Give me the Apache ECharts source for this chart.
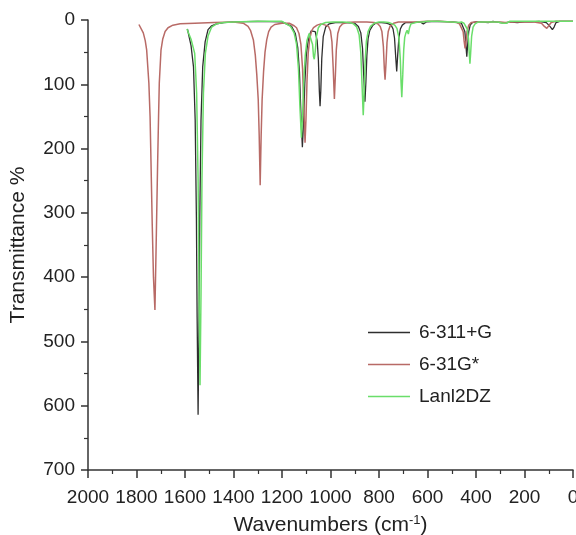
<!DOCTYPE html>
<html><head><meta charset="utf-8">
<script src="https://cdn.jsdelivr.net/npm/echarts@6/dist/echarts.min.js"></script>
<style>html,body{margin:0;padding:0;background:#fff}#c{width:576px;height:535px}</style>
</head><body><div id="c"></div>
<script>
var seriesNames = ['6-311+G', '6-31G*', 'Lanl2DZ'];
var xTicks = [0, 200, 400, 600, 800, 1000, 1200, 1400, 1600, 1800, 2000];
var yTicks = [0, 100, 200, 300, 400, 500, 600, 700];

// [wavenumber, transmittance %]
var black = [
[1590,14],[1575,40],[1565,73],[1558,156],[1553,307],[1550,462],[1546,614],[1542,462],[1539,307],[1534,156],[1527,73],[1517,34],[1505,15],[1490,9],[1470,6],[1440,4],[1400,3],[1300,2],[1200,3],
[1160,10],[1145,21],[1135,43],[1128,81],[1122,146],[1116,198],[1111,158],[1106,99],[1100,56],[1095,39],[1088,25],[1080,17],[1072,15],[1063,18],[1055,32],[1050,61],[1046,111],[1043,134],[1040,110],[1036,60],[1030,26],[1020,11],[1005,6],[980,4],[940,4],
[900,5],[885,10],[875,20],[868,44],[863,86],[858,127],[854,96],[850,55],[845,29],[838,16],[825,8],[810,4],[790,4],[770,5],[760,6],[750,8],[742,14],[736,28],[731,58],[727,80],[723,55],[718,28],[712,14],[704,8],[690,4],[660,4],[630,3],[617,6],[605,3],[560,2],[500,3],[470,4],[460,5],[452,8],[446,18],[442,37],[438,57],[434,37],[430,18],[424,8],[415,4],[400,3],[380,3],[350,4],[330,2],[300,4],[280,5],[260,3],[230,4],[200,3],[170,3],[140,2],[110,4],[95,10],[85,15],[78,11],[70,4],[55,2],[30,2],[0,2]];

var red = [
[1790,7],[1783,10],[1772,20],[1764,32],[1758,47],[1749,98],[1744,150],[1740,225],[1735,320],[1730,400],[1724,451],[1718,330],[1713,225],[1709,150],[1706,98],[1699,47],[1692,30],[1682,18],[1670,12],[1650,8],[1620,6],[1560,5],[1480,4],[1400,3],
[1360,5],[1340,10],[1330,16],[1318,31],[1310,55],[1304,85],[1298,124],[1294,180],[1290,257],[1286,180],[1282,124],[1276,80],[1270,50],[1263,31],[1255,18],[1245,11],[1230,7],[1200,5],[1170,5],
[1150,9],[1140,12],[1130,21],[1122,38],[1115,77],[1110,137],[1105,191],[1101,153],[1097,96],[1092,52],[1086,30],[1078,17],[1070,12],[1055,8],[1040,6],[1020,8],[1008,10],[1000,17],[994,34],[989,74],[984,123],[980,87],[976,46],[970,21],[962,11],[950,6],[930,4],[900,3],[850,3],
[820,4],[805,6],[795,10],[788,18],[782,41],[778,76],[775,93],[771,67],[767,35],[762,18],[755,10],[740,5],[720,3],[690,3],[650,3],[600,2],[550,2],[500,3],
[480,4],[468,6],[460,8],[453,18],[449,33],[445,44],[441,33],[437,18],[430,8],[420,4],[400,3],[350,3],[300,3],[280,4],[250,3],[200,3],[160,3],[130,5],[118,10],[108,13],[100,9],[90,4],[70,2],[40,2],[0,2]];

var green = [
[1592,14],[1575,30],[1560,52],[1552,114],[1546,247],[1542,427],[1538,568],[1534,427],[1530,247],[1524,114],[1516,52],[1505,25],[1490,11],[1470,6],[1440,4],[1400,3],[1300,2],[1200,2],
[1165,10],[1150,20],[1140,38],[1132,77],[1126,136],[1120,183],[1115,148],[1110,93],[1104,55],[1097,32],[1088,21],[1080,24],[1074,38],[1070,57],[1067,61],[1063,49],[1058,26],[1050,12],[1040,7],[1020,4],[990,3],[950,3],[920,4],
[905,6],[892,11],[882,23],[875,51],[870,100],[865,148],[861,111],[857,64],[852,33],[845,18],[835,10],[820,5],[800,3],[780,3],[760,4],
[745,6],[735,8],[726,13],[718,27],[712,62],[709,97],[706,120],[702,85],[698,46],[694,27],[689,20],[684,16],[679,22],[674,12],[668,6],[660,4],[640,3],[620,3],[600,2],[560,2],[500,3],
[470,4],[460,3],[450,5],[442,7],[436,14],[431,29],[428,51],[425,68],[422,51],[418,25],[412,11],[404,6],[390,3],[350,3],[310,3],[290,5],[282,8],[275,5],[260,2],[200,2],[150,2],[100,2],[50,2],[0,2]];

var FONT = '"Liberation Sans", Arial, sans-serif';
var axisColor = '#333';
var colors = ['#2e2e2e', '#b86a66', '#6ade6a'];
var chart = echarts.init(document.getElementById('c'), null, {renderer: 'canvas'});
chart.setOption({
  animation: false,
  backgroundColor: '#fff',
  grid: {left: 88, right: 3, top: 20, bottom: 65, containLabel: false, outerBoundsMode: 'none'},
  legend: {
    data: seriesNames,
    orient: 'vertical',
    left: 368, top: 323, padding: 0,
    icon: 'rect',
    itemWidth: 42, itemHeight: 1.5, itemGap: 13,
    textStyle: {fontFamily: FONT, fontSize: 19, color: '#222', padding: [0, 0, 0, 4], lineHeight: 19, height: 19}
  },
  xAxis: {
    type: 'value', position: 'bottom', min: xTicks[0], max: xTicks[xTicks.length - 1], interval: 200, inverse: true,
    name: '{a|Wavenumbers (cm}{s|-1}{a|)}',
    nameLocation: 'middle', nameGap: 43,
    nameTextStyle: {rich: {
      a: {fontFamily: FONT, fontSize: 21, color: '#222', lineHeight: 24},
      s: {fontFamily: FONT, fontSize: 13, color: '#222', lineHeight: 24, padding: [0, 0, 10, 0]}
    }},
    axisLine: {onZero: false, lineStyle: {color: axisColor, width: 1.5}},
    axisTick: {show: true, length: 8, lineStyle: {color: axisColor, width: 1.5}},
    minorTick: {show: true, splitNumber: 2, length: 4, lineStyle: {color: axisColor, width: 1.2}},
    axisLabel: {fontFamily: FONT, fontSize: 19, color: '#222', margin: 18, formatter: function (v) { return String(v); }},
    splitLine: {show: false}
  },
  yAxis: {
    type: 'value', position: 'left', min: yTicks[0], max: yTicks[yTicks.length - 1], interval: 100, inverse: true,
    name: 'Transmittance %', nameLocation: 'middle', nameGap: 59, nameRotate: 90,
    nameTextStyle: {fontFamily: FONT, fontSize: 21, color: '#222'},
    axisLine: {show: true, onZero: false, lineStyle: {color: axisColor, width: 1.5}},
    axisTick: {show: true, length: 7, lineStyle: {color: axisColor, width: 1.5}},
    minorTick: {show: true, splitNumber: 2, length: 4, lineStyle: {color: axisColor, width: 1.2}},
    axisLabel: {fontFamily: FONT, fontSize: 19, color: '#222', margin: 13, formatter: function (v) { return String(v); }},
    splitLine: {show: false}
  },
  series: [
    {name: seriesNames[0], type: 'line', data: black, symbol: 'none', lineStyle: {color: colors[0], width: 1.3}, itemStyle: {color: colors[0]}, z: 2},
    {name: seriesNames[1], type: 'line', data: red, symbol: 'none', lineStyle: {color: colors[1], width: 1.5}, itemStyle: {color: colors[1]}, z: 3},
    {name: seriesNames[2], type: 'line', data: green, symbol: 'none', lineStyle: {color: colors[2], width: 1.5}, itemStyle: {color: colors[2]}, z: 4}
  ]
});
</script></body></html>
